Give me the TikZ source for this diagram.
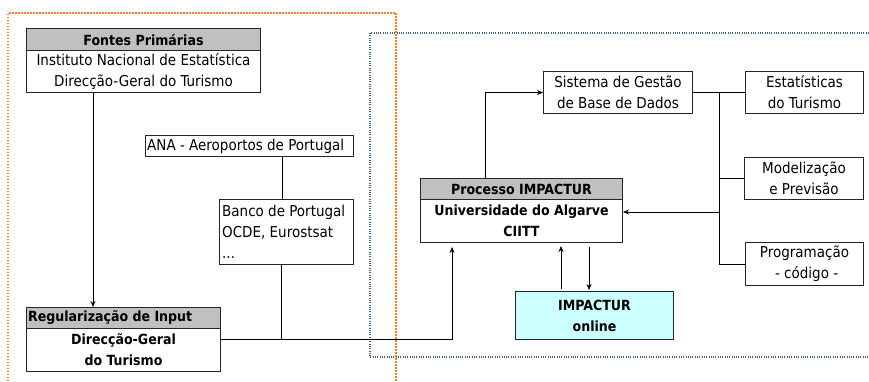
\documentclass[tikz,border=0pt]{standalone}
\usepackage{fontspec}
\setmainfont{DejaVu Sans Condensed}
\usetikzlibrary{arrows.meta,calc}
\definecolor{hdr}{HTML}{C0C0C0}
\definecolor{cyanbox}{HTML}{CCFFFF}
\definecolor{orng}{HTML}{FF7F27}
\definecolor{blu}{HTML}{3C6496}
\begin{document}
\begin{tikzpicture}[x=1pt,y=-1pt,
  box/.style={draw=black!85,line width=1pt,inner sep=0pt,anchor=north west},
  hdrbox/.style={box,fill=hdr},
  txt/.style={font=\fontsize{15}{21}\selectfont, align=center, inner sep=0pt},
  btxt/.style={txt,font=\fontsize{14}{21}\selectfont\bfseries},
  conn/.style={line width=0.8pt,black},
  arr/.style={conn,-{Stealth[length=6pt,width=5pt]}},
  ]
\useasboundingbox (0,0) rectangle (869,381);
\fill[white] (0,0) rectangle (869,381);
% containers
\draw[orng,line width=1.8pt,dash pattern=on 1.5pt off 1.5pt] (8,381) -- (8,13) -- (396,13) -- (396,381);
\draw[blu,line width=1.3pt,dash pattern=on 1pt off 1.3pt] (869,33) -- (370,33) -- (370,357) -- (869,357);
% boxes
\node[hdrbox,minimum width=234,minimum height=22] (fontesH) at (26,28) {};
\node[box,minimum width=234,minimum height=42] (fontes) at (26,50) {};
\node[btxt] (fontesHt) at (fontesH) {Fontes Primárias};
\node[txt] (fontest) at (fontes) {Instituto Nacional de Estatística\\Direcção-Geral do Turismo};

\node[hdrbox,minimum width=194,minimum height=21] (regulH) at (26,307) {};
\node[box,minimum width=194,minimum height=43] (regul) at (26,328) {};
\node[btxt,anchor=west] (regulHt) at ($(regulH.west)+(2,0)$) {Regularização de Input};
\node[btxt] (regult) at (regul) {Direcção-Geral\\do Turismo};

\node[box,minimum width=208,minimum height=21] (ana) at (145,135) {};
\node[txt,anchor=west] (anat) at ($(ana.west)+(2,0)$) {ANA - Aeroportos de Portugal};

\node[box,minimum width=134,minimum height=65] (banco) at (219,199) {};
\node[txt,align=left,anchor=west] (bancot) at ($(banco.west)+(3,0)$) {Banco de Portugal\\OCDE, Eurostsat\\...};

\node[hdrbox,minimum width=202,minimum height=21] (procH) at (420,178) {};
\node[box,minimum width=202,minimum height=43] (proc) at (420,199) {};
\node[btxt] (procHt) at (procH) {Processo IMPACTUR};
\node[btxt] (proct) at (proc) {Universidade do Algarve\\CIITT};

\node[box,minimum width=149,minimum height=42] (sist) at (543,71) {};
\node[txt] (sistt) at (sist) {Sistema de Gestão\\de Base de Dados};

\node[box,minimum width=118,minimum height=42] (estat) at (745,71) {};
\node[txt] (estatt) at (estat) {Estatísticas\\do Turismo};

\node[box,minimum width=119,minimum height=42] (model) at (744,157) {};
\node[txt] (modelt) at (model) {Modelização\\e Previsão};

\node[box,minimum width=118,minimum height=43] (prog) at (745,242) {};
\node[txt] (progt) at (prog) {Programação\\\ - código -};

\node[box,fill=cyanbox,minimum width=158,minimum height=48] (online) at (515,291) {};
\node[btxt] (onlinet) at (online) {IMPACTUR\\online};

% connectors
\draw[arr] ($(fontes.south west)+(67,0)$) -- ($(regulH.north west)+(67,0)$);
\draw[conn] ($(ana.south west)+(137,0)$) -- ($(banco.north west)+(63,0)$);
\coordinate (rl) at ($(regul.north east)+(0,11)$);
\coordinate (bj) at ($(banco.south west)+(62,0)$);
\draw[conn] (bj) -- (bj |- rl);
\draw[arr] (rl) -| ($(proc.south west)+(32,4)$);
\coordinate (pt) at ($(procH.north west)+(65,0)$);
\draw[arr] (pt) |- (sist.west);
\draw[conn] (sist.east) -- (estat.west);
\coordinate (bt) at ($(sist.east)!0.5!(estat.west)$);
\draw[conn] (bt) |- (prog.west);
\draw[conn] (bt |- model.west) -- (model.west);
\coordinate (pe) at ($(proc.north east)+(0,13)$);
\draw[arr] (bt |- pe) -- (pe);
\draw[arr] ($(online.north west)+(46,-2)$) -- ($(proc.south west)+(141,3)$);
\draw[arr] ($(proc.south west)+(169,4)$) -- ($(online.north west)+(74,-1)$);
\end{tikzpicture}
\end{document}
